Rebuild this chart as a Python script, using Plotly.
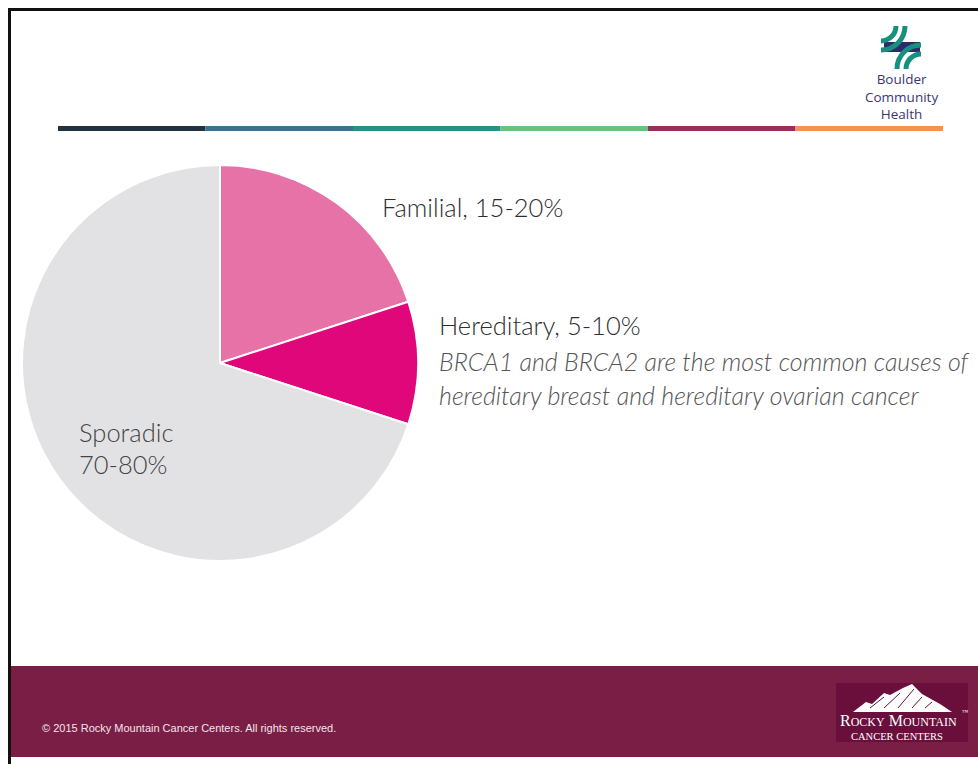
import plotly.graph_objects as go

W, H = 978, 764

# ---- data ----
categories = ["Familial", "Hereditary", "Sporadic"]
values = [20, 10, 70]
slice_colors = ["#E672A8", "#E0077A", "#E2E2E4"]
label_familial = "Familial, 15-20%"
label_hereditary = "Hereditary, 5-10%"
note_lines = ["BRCA1 and BRCA2 are the most common causes of",
              "hereditary breast and hereditary ovarian cancer"]
label_sporadic = ["Sporadic", "70-80%"]
bar_colors = ["#22323F", "#3A7392", "#2E8E85", "#6CC27D", "#93325A", "#EE9457"]


def X(px):
    return px / W


def Y(py):
    return 1 - py / H


def P(px, py):
    return f"{X(px):.5f},{Y(py):.5f}"


fig = go.Figure()
fig.add_trace(go.Pie(
    labels=categories, values=values, sort=False, direction="clockwise",
    rotation=0, marker=dict(colors=slice_colors, line=dict(color="white", width=2)),
    textinfo="none", hoverinfo="label+percent", showlegend=False,
    domain=dict(x=[X(22), X(418)], y=[Y(561), Y(165)]),
))

shapes = []
# slide border (top & left)
shapes.append(dict(type="rect", xref="paper", yref="paper", x0=X(8), x1=X(11), y0=Y(764), y1=Y(8),
                   fillcolor="#111111", line=dict(width=0), layer="above"))
shapes.append(dict(type="rect", xref="paper", yref="paper", x0=X(8), x1=X(978), y0=Y(11), y1=Y(8),
                   fillcolor="#111111", line=dict(width=0), layer="above"))
# colour bar
x_start, seg = 58, (943 - 58) / 6
for i, c in enumerate(bar_colors):
    shapes.append(dict(type="rect", xref="paper", yref="paper",
                       x0=X(x_start + i * seg), x1=X(x_start + (i + 1) * seg),
                       y0=Y(131), y1=Y(126), fillcolor=c, line=dict(width=0)))
# footer band
shapes.append(dict(type="rect", xref="paper", yref="paper", x0=X(11), x1=X(978), y0=Y(757), y1=Y(666),
                   fillcolor="#7A1E46", line=dict(width=0)))
# Rocky Mountain logo box
shapes.append(dict(type="rect", xref="paper", yref="paper", x0=X(836), x1=X(968), y0=Y(742), y1=Y(683),
                   fillcolor="#6A0F3B", line=dict(width=0)))
# mountains
mpts = [(853, 712), (866, 702), (872, 704), (884, 693), (890, 695), (903, 688), (912, 684),
        (922, 694), (931, 699), (940, 704), (952, 712)]
shapes.append(dict(type="path", xref="paper", yref="paper",
                   path="M" + " L".join(P(a, b) for a, b in mpts) + " Z",
                   fillcolor="white", line=dict(width=0)))
for (a0, b0, a1, b1) in [(870, 708, 884, 697), (884, 708, 900, 693), (898, 708, 914, 689),
                         (912, 708, 922, 697), (925, 708, 932, 702)]:
    shapes.append(dict(type="line", xref="paper", yref="paper", x0=X(a0), y0=Y(b0), x1=X(a1), y1=Y(b1),
                       line=dict(color="#6A0F3B", width=1)))

# Boulder Community Health symbol
shapes.append(dict(type="rect", xref="paper", yref="paper", x0=X(884), x1=X(920), y0=Y(52), y1=Y(42),
                   fillcolor="#2E2A6B", line=dict(width=0)))
k = 0.5523


def arc_tl(cx, cy, r):
    return (f"M{P(cx + r, cy)} C{P(cx + r, cy + k * r)} {P(cx + k * r, cy + r)} {P(cx, cy + r)}")


def arc_br(cx, cy, r):
    return (f"M{P(cx, cy - r)} C{P(cx - k * r, cy - r)} {P(cx - r, cy - k * r)} {P(cx - r, cy)}")


for r in (15, 24):
    shapes.append(dict(type="path", xref="paper", yref="paper", path=arc_tl(881, 26, r),
                       line=dict(color="#17907F", width=5)))
    shapes.append(dict(type="path", xref="paper", yref="paper", path=arc_br(921, 69, r),
                       line=dict(color="#17907F", width=5)))

annotations = []


def txt(x, y, s, size, color, family="Lato", anchor="left", italic=False, weight=None):
    t = f"<i>{s}</i>" if italic else s
    f = dict(size=size, color=color, family=family)
    if weight:
        f["weight"] = weight
    annotations.append(dict(x=X(x), y=Y(y), xref="paper", yref="paper", text=t, showarrow=False,
                            xanchor=anchor, yanchor="middle", font=f))


txt(380, 207, label_familial, 25.5, "#2E2E2E", weight=300)
txt(437, 325, label_hereditary, 25.5, "#2E2E2E", weight=300)
txt(437, 361, note_lines[0], 25, "#555555", italic=True, weight=300)
txt(437, 395, note_lines[1], 25, "#555555", italic=True, weight=300)
txt(77, 432, label_sporadic[0], 25.5, "#444444", weight=300)
txt(77, 464, label_sporadic[1], 25.5, "#444444", weight=300)

# Boulder Community Health wordmark (one text block)
annotations.append(dict(x=X(901), y=Y(97), xref="paper", yref="paper",
                        text="Boulder<br>Community<br>Health", showarrow=False,
                        xanchor="center", yanchor="middle", align="center",
                        font=dict(size=13.5, color="#3B3773", family="Open Sans")))

# footer texts
txt(40, 728, "© 2015 Rocky Mountain Cancer Centers. All rights reserved.", 11, "#F2E4EA",
    family="Liberation Sans")
annotations.append(dict(x=X(898), y=Y(720), xref="paper", yref="paper",
                        text="R<span style='font-size:12px'>OCKY</span> M<span style='font-size:12px'>OUNTAIN</span>",
                        showarrow=False, xanchor="center", yanchor="middle",
                        font=dict(size=16, color="white", family="Liberation Serif")))
txt(965, 712, "™", 6, "white", family="Liberation Serif", anchor="center")
txt(897, 736, "CANCER CENTERS", 10.5, "white", family="Liberation Serif", anchor="center")

fig.update_layout(
    width=W, height=H, margin=dict(l=0, r=0, t=0, b=0),
    paper_bgcolor="white", plot_bgcolor="white",
    shapes=shapes, annotations=annotations,
)
fig.write_html("out.html")
